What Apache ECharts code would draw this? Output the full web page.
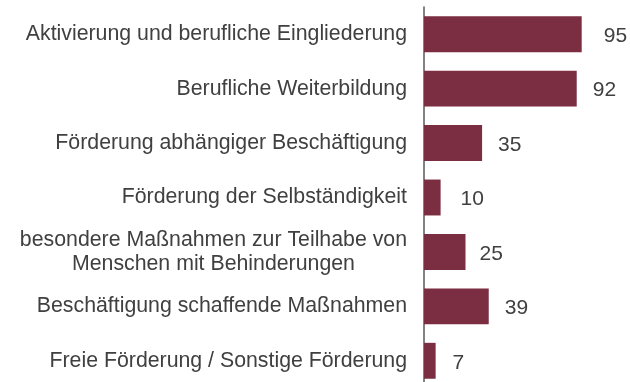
<!DOCTYPE html>
<html>
<head>
<meta charset="utf-8">
<script src="https://cdn.jsdelivr.net/npm/echarts@6/dist/echarts.min.js"></script>
<style>
  html, body { margin: 0; padding: 0; background: #ffffff; overflow: hidden; }
  #chart { width: 630px; height: 382px; }
</style>
</head>
<body>
<div id="chart"></div>
<script>
// Förderinstrumente, von oben nach unten
const categories = [
  'Aktivierung und berufliche Eingliederung',
  'Berufliche Weiterbildung',
  'Förderung abhängiger Beschäftigung',
  'Förderung der Selbständigkeit',
  'besondere Maßnahmen zur Teilhabe von\nMenschen mit Behinderungen',
  'Beschäftigung schaffende Maßnahmen',
  'Freie Förderung / Sonstige Förderung'
];
const values = [95, 92, 35, 10, 25, 39, 7];

const textColor = '#404040';
const barColor = '#7b2d42';
const fontFamily = '"Liberation Sans", Arial, sans-serif';

// etwas mehr Abstand für einzelne Wertebeschriftungen
const labelDistance = [22, 16, 16, 20, 14, 16, 17];

const chart = echarts.init(document.getElementById('chart'), null, { renderer: 'canvas' });

chart.setOption({
  animation: false,
  backgroundColor: '#ffffff',
  // die unterste Kategorie reicht etwas über den unteren Rand hinaus
  grid: {
    left: 424, width: 166, top: 7, height: 381,
    containLabel: false,
    outerBoundsMode: 'none'
  },
  xAxis: {
    type: 'value',
    min: 0,
    max: 100,
    show: false
  },
  yAxis: {
    type: 'category',
    inverse: true,
    data: categories,
    axisLine: { show: true, lineStyle: { color: '#595959', width: 1.5 } },
    axisTick: { show: false },
    splitLine: { show: false },
    axisLabel: {
      margin: 17,
      color: textColor,
      fontSize: 21.3,
      fontFamily: fontFamily,
      formatter: function (v) {
        return v.split('\n').map(function (line) { return '{c|' + line + '}'; }).join('\n');
      },
      rich: {
        c: {
          align: 'center',
          color: textColor,
          fontSize: 21.3,
          fontFamily: fontFamily,
          lineHeight: 24
        }
      }
    }
  },
  series: [{
    type: 'bar',
    barWidth: '66%',
    itemStyle: { color: barColor },
    data: values.map(function (v, i) {
      return { value: v, label: { distance: labelDistance[i] } };
    }),
    label: {
      show: true,
      position: 'right',
      offset: [0, 2],
      color: textColor,
      fontSize: 21,
      fontFamily: fontFamily
    }
  }]
});
</script>
</body>
</html>
